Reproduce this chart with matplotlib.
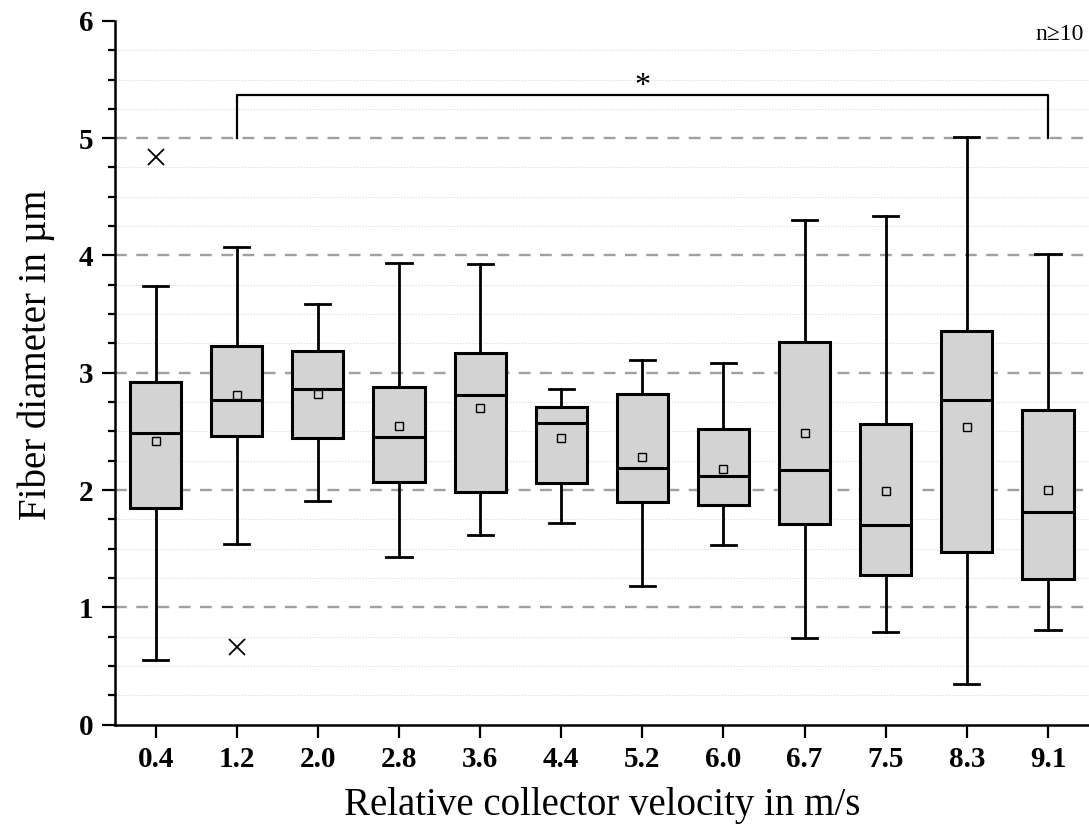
import matplotlib
matplotlib.use("Agg")
import matplotlib.pyplot as plt
from matplotlib.ticker import MultipleLocator

plt.rcParams["font.family"] = ["Liberation Serif", "DejaVu Serif"]

velocities = ["0.4", "1.2", "2.0", "2.8", "3.6", "4.4", "5.2", "6.0", "6.7", "7.5", "8.3", "9.1"]
whisker_low = [0.55, 1.54, 1.91, 1.43, 1.62, 1.72, 1.18, 1.53, 0.74, 0.79, 0.35, 0.81]
q1 = [1.85, 2.46, 2.44, 2.07, 1.98, 2.06, 1.90, 1.87, 1.71, 1.28, 1.47, 1.24]
median = [2.49, 2.77, 2.86, 2.45, 2.81, 2.57, 2.19, 2.12, 2.17, 1.70, 2.77, 1.81]
q3 = [2.92, 3.23, 3.19, 2.88, 3.17, 2.71, 2.82, 2.52, 3.26, 2.56, 3.36, 2.68]
whisker_high = [3.74, 4.07, 3.59, 3.94, 3.93, 2.86, 3.11, 3.08, 4.30, 4.34, 5.01, 4.01]
mean = [2.42, 2.81, 2.82, 2.55, 2.70, 2.44, 2.28, 2.18, 2.49, 1.99, 2.54, 2.00]
outliers = [[4.84], [0.66], [], [], [], [], [], [], [], [], [], []]

stats = []
for i in range(len(velocities)):
    stats.append({"whislo": whisker_low[i], "q1": q1[i], "med": median[i], "q3": q3[i],
                  "whishi": whisker_high[i], "mean": mean[i], "fliers": outliers[i]})

fig = plt.figure(figsize=(10.89, 8.34), dpi=100)
ax = fig.add_axes([0.1056, 0.131, 0.894, 0.844])

positions = list(range(1, len(velocities) + 1))
ax.bxp(stats, positions=positions, widths=0.63, showmeans=True, patch_artist=True,
       boxprops=dict(facecolor="#d3d3d3", edgecolor="black", linewidth=2.2),
       medianprops=dict(color="black", linewidth=2.2),
       whiskerprops=dict(color="black", linewidth=2),
       capprops=dict(color="black", linewidth=2),
       capwidths=0.31,
       meanprops=dict(marker="s", markerfacecolor="none", markeredgecolor="black",
                      markersize=6, markeredgewidth=1),
       flierprops=dict(marker="x", markeredgecolor="black", markersize=11, markeredgewidth=1.3),
       zorder=3)

ax.set_xlim(0.5, 12.5)
ax.set_ylim(0, 6)
ax.set_xticks(positions)
ax.set_xticklabels(velocities)
ax.yaxis.set_major_locator(MultipleLocator(1))
ax.yaxis.set_minor_locator(MultipleLocator(0.25))

for y in range(1, 6):
    ax.axhline(y, color="#a0a0a0", linewidth=1.7, dashes=(5, 4), zorder=1)
ax.grid(which="minor", axis="y", color="#d8d8d8", linestyle=":", linewidth=0.8, zorder=0)

for side in ["top", "right"]:
    ax.spines[side].set_visible(False)
for side in ["left", "bottom"]:
    ax.spines[side].set_linewidth(1.8)

ax.tick_params(axis="both", which="major", direction="out", length=9.5, width=1.6,
               labelsize=21, pad=6)
ax.tick_params(axis="y", which="minor", direction="out", length=5, width=1.6)
for lbl in ax.get_xticklabels() + ax.get_yticklabels():
    lbl.set_fontweight("bold")

ax.set_xlabel("Relative collector velocity in m/s", fontsize=28)
ax.set_ylabel("Fiber diameter in µm", fontsize=28)
ax.xaxis.set_label_coords(0.5, -0.088)
ax.yaxis.set_label_coords(-0.062, 0.526)

# significance bracket between 1.2 and 9.1
ax.plot([2, 2, 12, 12], [5.0, 5.37, 5.37, 5.0], color="black", linewidth=1.6, zorder=4)
ax.text(7, 5.44, "*", ha="center", va="center", fontsize=23)
ax.text(12.44, 5.88, "n≥10", ha="right", va="center", fontsize=17)

fig.savefig("out.png", dpi=100)
